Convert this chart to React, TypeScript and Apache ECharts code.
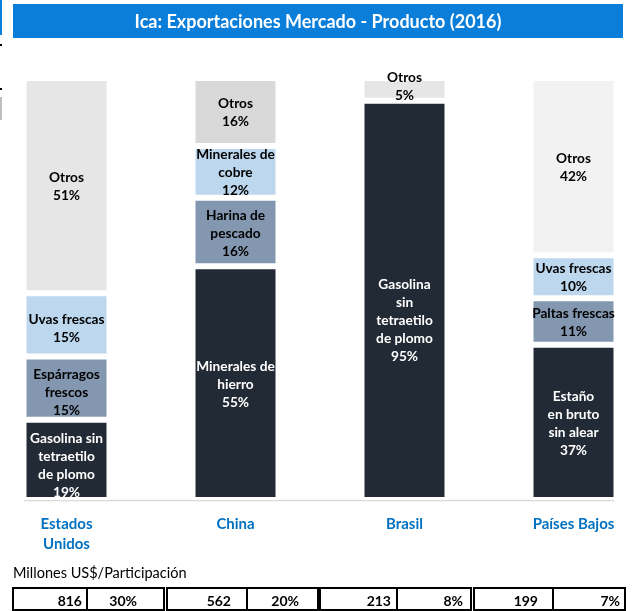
import React, { useEffect, useRef } from 'react';
import * as echarts from 'echarts';

const countries = ['Estados\nUnidos', 'China', 'Brasil', 'Países Bajos'];
const level1Names = ['Gasolina sin\ntetraetilo\nde plomo', 'Minerales de\nhierro', 'Gasolina\nsin\ntetraetilo\nde plomo', 'Estaño\nen bruto\nsin alear'];
const level1Values = [19, 55.4, 94.6, 36.8];
const level2Names = ['Espárragos\nfrescos', 'Harina de\npescado', 'Otros', 'Paltas frescas'];
const level2Values = [15, 16.2, 5.4, 11];
const level3Names = ['Uvas frescas', 'Minerales de\ncobre', '', 'Uvas frescas'];
const level3Values: (number | null)[] = [15, 12.3, null, 10.2];
const level4Names = ['Otros', 'Otros', '', 'Otros'];
const level4Values: (number | null)[] = [51, 16.1, null, 42];
const exportValues = [816, 562, 213, 199];
const exportShares = ['30%', '20%', '8%', '7%'];

const DARK = '#222a35';
const MID = '#8497b0';
const LIGHT = '#bdd7ee';
const G1 = '#e7e6e6';
const G2 = '#d9d9d9';
const G3 = '#f2f2f2';
const FONT = 'Lato, "Noto Sans", sans-serif';
const OX = 18; // chart div is shifted left by this many pixels

const levelColors = [
  [DARK, DARK, DARK, DARK],
  [MID, MID, G1, MID],
  [LIGHT, LIGHT, LIGHT, LIGHT],
  [G1, G2, G1, G3],
];
const labelOffsets: Record<string, [number, number]> = {
  '0-0': [0, 5],
  '0-2': [0, 19],
  '1-2': [0, -4],
  '1-0': [0, 3],
  '2-0': [0, 3],
};

function buildSeries(names: string[], values: (number | null)[], level: number) {
  return {
    type: 'bar',
    stack: 'total',
    barWidth: 86,
    data: values.map((v, i) => {
      if (v === null) return { value: null, name: '' };
      const color = levelColors[level][i];
      const off = labelOffsets[`${level}-${i}`] || [0, 0];
      return {
        value: v,
        name: names[i],
        itemStyle: { color, borderColor: '#ffffff', borderWidth: 3 },
        label: {
          show: true,
          position: 'inside',
          offset: off,
          color: color === DARK ? '#ffffff' : '#000000',
        },
      };
    }),
    label: {
      show: true,
      position: 'inside',
      fontFamily: FONT,
      fontWeight: 'bold',
      fontSize: 13.7,
      lineHeight: 18,
      formatter: (p: any) => `${p.name}\n${Math.round(p.value)}%`,
    },
    emphasis: { disabled: true },
  };
}

export default function App() {
  const ref = useRef<HTMLDivElement>(null);
  useEffect(() => {
    if (!ref.current) return;
    const chart = echarts.init(ref.current, null, { renderer: 'svg' });

    const boxStarts = [13, 167, 320, 474];
    const boxWidth = 151;
    const dividers = [87, 247, 397, 553];
    const numRight = [82, 231, 391, 538];
    const shareRight = [137, 299, 463, 620];
    const rowY = 588;
    const rowH = 22;

    const tableEls: any[] = [];
    boxStarts.forEach((x, i) => {
      tableEls.push({
        type: 'rect',
        shape: { x: x + OX, y: rowY, width: boxWidth, height: rowH },
        style: { fill: 'none', stroke: '#000', lineWidth: 2 },
      });
      tableEls.push({
        type: 'line',
        shape: { x1: dividers[i] + OX, y1: rowY, x2: dividers[i] + OX, y2: rowY + rowH },
        style: { stroke: '#000', lineWidth: 2 },
      });
      tableEls.push({
        type: 'text',
        x: numRight[i] + OX,
        y: rowY + rowH / 2 + 1,
        style: { text: String(exportValues[i]), align: 'right', verticalAlign: 'middle', font: `bold 14px ${FONT}`, fill: '#000' },
      });
      tableEls.push({
        type: 'text',
        x: shareRight[i] + OX,
        y: rowY + rowH / 2 + 1,
        style: { text: exportShares[i], align: 'right', verticalAlign: 'middle', font: `bold 14px ${FONT}`, fill: '#000' },
      });
    });

    chart.setOption({
      animation: false,
      grid: { left: 0, width: 676, top: 78, height: 422 },
      xAxis: {
        type: 'category',
        data: countries,
        axisLine: { show: false },
        axisTick: { show: false },
        axisLabel: {
          interval: 0,
          margin: 13,
          color: '#0070c0',
          fontFamily: FONT,
          fontWeight: 'bold',
          fontSize: 15,
          lineHeight: 20,
        },
      },
      yAxis: { type: 'value', min: 0, max: 100, show: false, splitLine: { show: false } },
      series: [
        buildSeries(level1Names, level1Values, 0),
        buildSeries(level2Names, level2Values, 1),
        buildSeries(level3Names, level3Values, 2),
        buildSeries(level4Names, level4Values, 3),
      ],
      graphic: [
        { type: 'rect', shape: { x: 0 + OX, y: 0, width: 2, height: 35 }, style: { fill: '#0a7ed8' } },
        { type: 'rect', shape: { x: 0 + OX, y: 44, width: 2, height: 2 }, style: { fill: '#000' } },
        { type: 'rect', shape: { x: 0 + OX, y: 88, width: 2, height: 2 }, style: { fill: '#000' } },
        { type: 'rect', shape: { x: 0 + OX, y: 97, width: 2, height: 23 }, style: { fill: '#bfbfbf' } },
        { type: 'rect', shape: { x: 13 + OX, y: 4, width: 610, height: 34 }, style: { fill: '#0a7ed8' } },
        {
          type: 'text',
          x: 318 + OX,
          y: 21,
          style: {
            text: 'Ica: Exportaciones Mercado - Producto (2016)',
            align: 'center',
            verticalAlign: 'middle',
            font: `bold 18px ${FONT}`,
            fill: '#ffffff',
          },
        },
        { type: 'line', shape: { x1: 24 + OX, y1: 500.5, x2: 614 + OX, y2: 500.5 }, style: { stroke: '#d9d9d9', lineWidth: 1.5 } },
        {
          type: 'text',
          x: 13 + OX,
          y: 572,
          style: { text: 'Millones US$/Participación', align: 'left', verticalAlign: 'middle', font: `14.5px ${FONT}`, fill: '#000' },
        },
        ...tableEls,
      ],
    });
    return () => chart.dispose();
  }, []);
  return <div ref={ref} style={{ position: 'fixed', left: -OX, top: 0, width: 676, height: 611 }} />;
}
